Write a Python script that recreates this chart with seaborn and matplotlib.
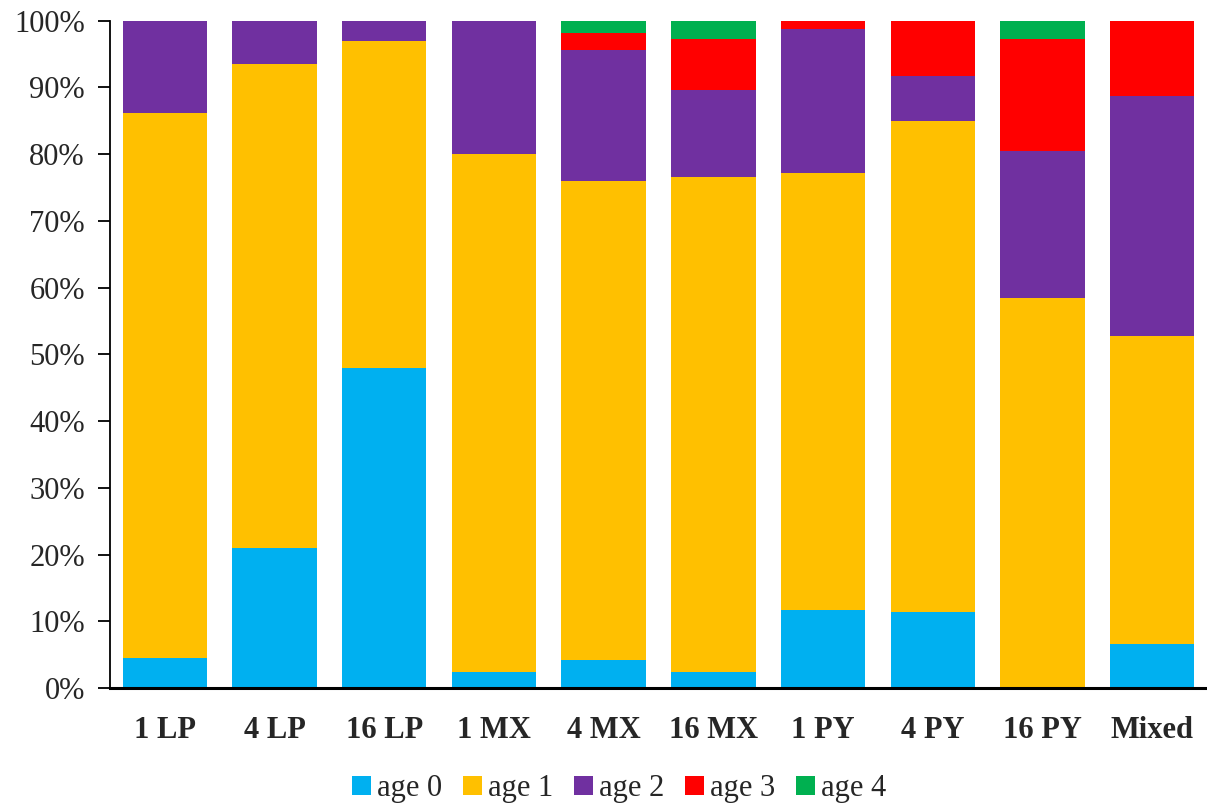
import numpy as np
import pandas as pd
import matplotlib
matplotlib.use("Agg")
import matplotlib.pyplot as plt
import seaborn as sns
from matplotlib.patches import Patch
from matplotlib.ticker import PercentFormatter

# --- data (percent of each group) ---
groups = ["1 LP", "4 LP", "16 LP", "1 MX", "4 MX", "16 MX", "1 PY", "4 PY", "16 PY", "Mixed"]
ages = ["age 0", "age 1", "age 2", "age 3", "age 4"]
age0 = [4.5, 21.0, 48.0, 2.4, 4.2, 2.4, 11.7, 11.4, 0.0, 6.6]
age1 = [81.7, 72.5, 49.0, 77.6, 71.8, 74.2, 65.5, 73.6, 58.5, 46.1]
age2 = [13.8, 6.5, 3.0, 20.0, 19.6, 13.0, 21.6, 6.7, 21.9, 36.0]
age3 = [0.0, 0.0, 0.0, 0.0, 2.6, 7.7, 1.2, 8.3, 16.9, 11.3]
age4 = [0.0, 0.0, 0.0, 0.0, 1.8, 2.7, 0.0, 0.0, 2.7, 0.0]
colors = ["#00B0F0", "#FFC000", "#7030A0", "#FF0000", "#00B050"]

sns.set_theme(style="white")
plt.rcParams["font.family"] = ["Liberation Serif", "DejaVu Serif"]

df = pd.DataFrame({"group": groups, "age 0": age0, "age 1": age1,
                   "age 2": age2, "age 3": age3, "age 4": age4})
cum = df[ages].cumsum(axis=1)

fig = plt.figure(figsize=(12.07, 8.05), dpi=100)
ax = fig.add_axes([0.0911, 0.1453, 0.9089, 0.829])

# stacked bars: draw cumulative totals from the top segment down
for age, col in reversed(list(zip(ages, colors))):
    sns.barplot(x=df["group"], y=cum[age], color=col, width=0.77,
                saturation=1, ax=ax, linewidth=0)

ax.set_ylim(0, 100)
ax.set_xlim(-0.5, 9.5)
ax.set_yticks(np.arange(0, 101, 10))
ax.yaxis.set_major_formatter(PercentFormatter(decimals=0))
ax.set_xlabel("")
ax.set_ylabel("")
for s in ["top", "right"]:
    ax.spines[s].set_visible(False)
ax.spines["left"].set_color("black")
ax.spines["left"].set_linewidth(1.3)
ax.spines["bottom"].set_color("black")
ax.spines["bottom"].set_linewidth(2.2)
ax.tick_params(axis="y", direction="out", length=9, width=1.3, color="black",
               labelsize=22, pad=9, left=True)
ax.tick_params(axis="x", length=0, labelsize=22, pad=20)
for lbl in ax.get_xticklabels():
    lbl.set_fontweight("bold")

handles = [Patch(facecolor=c, edgecolor="none") for c in colors]
fig.legend(handles, ages, loc="center", bbox_to_anchor=(0.513, 0.02), ncol=5,
           frameon=False, fontsize=22, handlelength=0.6, handleheight=0.6,
           handletextpad=0.2, columnspacing=0.7)

fig.savefig("out.png", dpi=100)
